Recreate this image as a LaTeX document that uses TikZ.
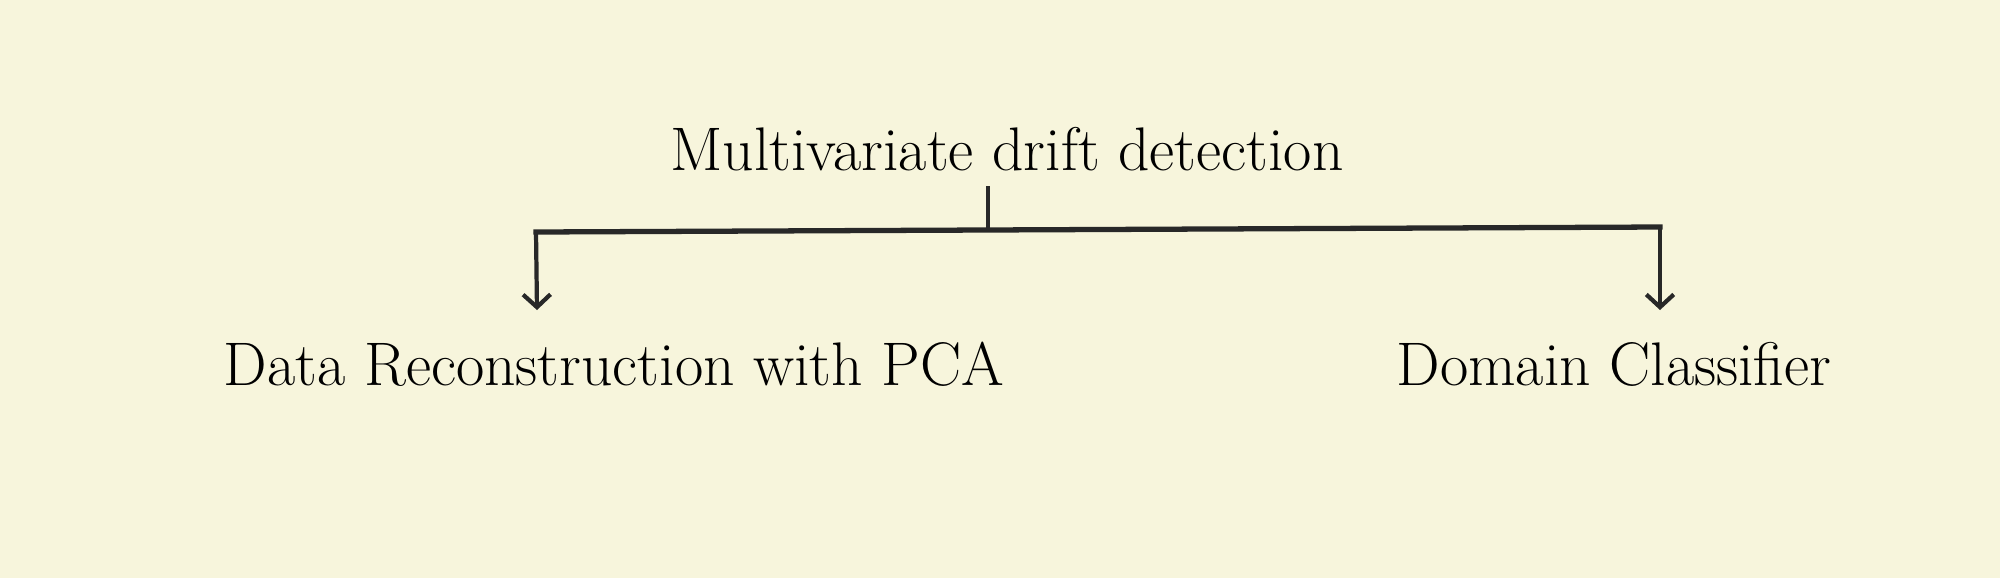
\documentclass[tikz,border=0pt]{standalone}
\usetikzlibrary{arrows.meta}
\definecolor{bgcream}{RGB}{247,245,220}
\definecolor{linegrey}{RGB}{40,40,40}
\begin{document}
\begin{tikzpicture}[x=0.01cm,y=-0.01cm,
  label/.style={inner sep=0pt, font=\fontsize{17.5}{21}\selectfont, text=black},
  conn/.style={draw=linegrey, line width=1.2pt},
  bar/.style={draw=linegrey, line width=1.5pt, line cap=rect},
  arr/.style={conn, -{Straight Barb[length=3.6pt,width=7.8pt]}}]
\fill[bgcream] (0,0) rectangle (2000,578);
\useasboundingbox (0,0) rectangle (2000,578);
% nodes
\node[label, anchor=base] (t) at (1007,170) {Multivariate drift detection};
\node[label, anchor=base] (l) at (614,385) {Data Reconstruction with PCA};
\node[label, anchor=base] (r) at (1614,385) {Domain Classifier};
% connector points
\coordinate (s) at (988,186);
\coordinate (j) at (988,229.5);
\coordinate (bl) at (536,232);
\coordinate (br) at (1660,227);
\coordinate (al) at (537,310);
\coordinate (ar) at (1660,310);
% connectors
\draw[conn] (s) -- (j);
\draw[bar] (bl) -- (br);
\draw[arr] (bl) -- (al);
\draw[arr] (br) -- (ar);
\end{tikzpicture}
\end{document}
